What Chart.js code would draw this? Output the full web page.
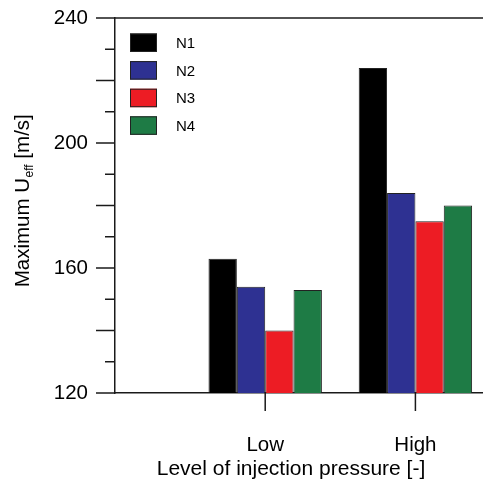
<!DOCTYPE html>
<html>
<head>
<meta charset="utf-8">
<script src="https://cdn.jsdelivr.net/npm/chart.js@4"></script>
<style>
html,body{margin:0;padding:0;background:#fff;overflow:hidden;}
#wrap{width:483px;height:486px;position:relative;}
</style>
</head>
<body>
<div id="wrap"><canvas id="c" width="483" height="486"></canvas></div>
<script>
// ---- data ----
const categories = ['Low', 'High'];
const seriesNames = ['N1', 'N2', 'N3', 'N4'];
const N1 = [163, 224];
const N2 = [154, 184];
const N3 = [140, 175];
const N4 = [153, 180];
const yTickValues = [120, 160, 200, 240];
const yTitleMain = 'Maximum U';
const yTitleSub = 'eff';
const yTitleTail = ' [m/s]';
const xTitle = 'Level of injection pressure [-]';

// ---- styling ----
const FONT = '"Liberation Sans", Arial, sans-serif';
const colors = ['#000000', '#2E3192', '#ED1C24', '#1E7B45'];
const allSeries = [N1, N2, N3, N4];

const datasets = allSeries.map((vals, i) => ({
  label: seriesNames[i],
  data: vals.map((v, j) => ({ x: j + 1, y: v })),
  backgroundColor: colors[i],
  borderColor: '#222',
  borderWidth: 1,
  borderSkipped: 'bottom',
  categoryPercentage: 0.755,
  barPercentage: 1.0
}));

const decor = {
  id: 'decor',
  afterDraw(chart) {
    const ctx = chart.ctx;
    const ys = chart.scales.y, xs = chart.scales.x;
    const ca = chart.chartArea;
    ctx.save();
    ctx.strokeStyle = '#1a1a1a';
    ctx.lineWidth = 1.5;
    // top border
    ctx.beginPath();
    ctx.moveTo(ca.left, ys.getPixelForValue(240));
    ctx.lineTo(ca.right, ys.getPixelForValue(240));
    ctx.stroke();
    // y ticks every 10, long every 20
    for (let v = ys.min; v <= ys.max; v += 10) {
      const py = ys.getPixelForValue(v);
      const len = (v % 20 === 0) ? 19 : 10;
      ctx.beginPath();
      ctx.moveTo(ca.left - len, py);
      ctx.lineTo(ca.left, py);
      ctx.stroke();
    }
    // x ticks downward at categories
    categories.forEach((c, i) => {
      const px = xs.getPixelForValue(i + 1);
      ctx.beginPath();
      ctx.moveTo(px, ca.bottom);
      ctx.lineTo(px, ca.bottom + 18);
      ctx.stroke();
    });
    // x title
    ctx.fillStyle = '#000';
    ctx.font = '21px ' + FONT;
    ctx.textAlign = 'center';
    ctx.textBaseline = 'alphabetic';
    ctx.fillText(xTitle, 291, 475);
    // y title with subscript
    ctx.save();
    ctx.translate(28.5, 201);
    ctx.rotate(-Math.PI / 2);
    ctx.textAlign = 'left';
    const fMain = '20.5px ' + FONT, fSub = '12px ' + FONT;
    ctx.font = fMain; const w1 = ctx.measureText(yTitleMain).width;
    const w3 = ctx.measureText(yTitleTail).width;
    ctx.font = fSub; const w2 = ctx.measureText(yTitleSub).width;
    let x0 = -(w1 + w2 + w3) / 2;
    ctx.font = fMain; ctx.fillText(yTitleMain, x0, 0);
    ctx.font = fSub; ctx.fillText(yTitleSub, x0 + w1 + 0.5, 4.5);
    ctx.font = fMain; ctx.fillText(yTitleTail, x0 + w1 + w2 + 0.5, 0);
    ctx.restore();
    // legend
    const bx = 130, bw = 27, bh = 18.5, top0 = 33.5, step = 27.6;
    ctx.textAlign = 'left';
    chart.data.datasets.forEach((ds, i) => {
      const by = top0 + i * step;
      ctx.fillStyle = ds.backgroundColor;
      ctx.fillRect(bx, by, bw, bh);
      ctx.lineWidth = 1;
      ctx.strokeStyle = '#222';
      ctx.strokeRect(bx + 0.5, by + 0.5, bw - 1, bh - 1);
      ctx.fillStyle = '#000';
      ctx.font = '15px ' + FONT;
      ctx.textBaseline = 'alphabetic';
      ctx.fillText(ds.label, 176, by + bh / 2 + 5.5);
    });
    ctx.restore();
  }
};

new Chart(document.getElementById('c'), {
  type: 'bar',
  data: { datasets },
  options: {
    responsive: false,
    animation: false,
    devicePixelRatio: 1,
    layout: { padding: { top: 18, right: 0, bottom: 0, left: 0 } },
    plugins: { legend: { display: false }, tooltip: { enabled: false } },
    scales: {
      x: {
        type: 'linear',
        min: 0,
        max: 2.45,
        offset: false,
        afterFit(s) { s.height = 93; },
        afterBuildTicks(s) { s.ticks = categories.map((c, i) => ({ value: i + 1 })); },
        ticks: {
          autoSkip: false,
          maxRotation: 0,
          padding: 0,
          color: '#000',
          font: { family: FONT, size: 20.5 },
          callback: (v) => categories[v - 1] || ''
        },
        grid: { display: true, drawOnChartArea: false, drawTicks: true, tickLength: 40, tickColor: 'rgba(0,0,0,0)', offset: false },
        border: { display: true, color: '#1a1a1a', width: 1.5 }
      },
      y: {
        min: 120,
        max: 240,
        afterFit(s) { s.width = 115; },
        afterBuildTicks(s) { s.ticks = yTickValues.map(v => ({ value: v })); },
        ticks: {
          padding: 0,
          color: '#000',
          font: { family: FONT, size: 20.5 }
        },
        grid: { display: true, drawOnChartArea: false, drawTicks: true, tickLength: 27, tickColor: 'rgba(0,0,0,0)' },
        border: { display: true, color: '#1a1a1a', width: 1.5 }
      }
    }
  },
  plugins: [decor]
});
</script>
</body>
</html>
